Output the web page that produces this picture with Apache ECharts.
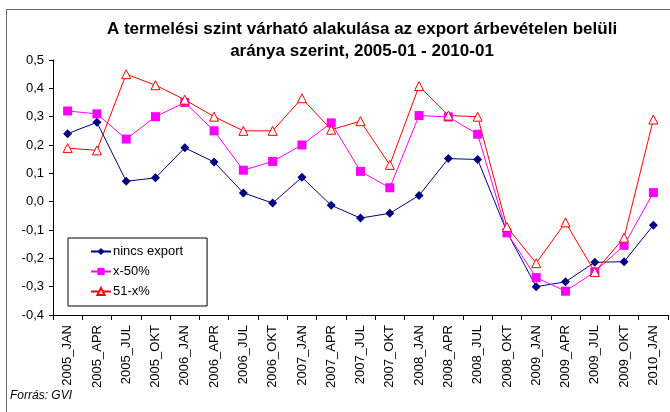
<!DOCTYPE html>
<html>
<head>
<meta charset="utf-8" />
<title>A termelési szint várható alakulása</title>
<script src="https://cdn.jsdelivr.net/npm/echarts@6/dist/echarts.min.js"></script>
<style>
  html, body { margin: 0; padding: 0; background: #fff; }
  #chart { width: 670px; height: 412px; }
</style>
</head>
<body>
<div id="chart"></div>
<script>
// negyedéves időpontok
const categories = [
  "2005_JAN", "2005_APR", "2005_JUL", "2005_OKT",
  "2006_JAN", "2006_APR", "2006_JUL", "2006_OKT",
  "2007_JAN", "2007_APR", "2007_JUL", "2007_OKT",
  "2008_JAN", "2008_APR", "2008_JUL", "2008_OKT",
  "2009_JAN", "2009_APR", "2009_JUL", "2009_OKT",
  "2010_JAN"
];

const nincsExport = [0.24, 0.28, 0.072, 0.084, 0.19, 0.14, 0.031, -0.005, 0.086, -0.013, -0.058,
  -0.041, 0.022, 0.152, 0.149, -0.107, -0.30, -0.283, -0.214, -0.212, -0.083];
const x50 = [0.32, 0.31, 0.221, 0.30, 0.35, 0.25, 0.111, 0.142, 0.20, 0.278, 0.107,
  0.049, 0.304, 0.299, 0.238, -0.11, -0.268, -0.316, -0.248, -0.154, 0.032];
const x51 = [0.189, 0.181, 0.45, 0.411, 0.36, 0.30, 0.25, 0.25, 0.365, 0.254, 0.284,
  0.13, 0.408, 0.304, 0.30, -0.089, -0.217, -0.073, -0.248, -0.127, 0.29];

const yMin = -0.4;
const yMax = 0.5;
const yStep = 0.1;

const font = "'Liberation Sans', Arial, sans-serif";

const chart = echarts.init(document.getElementById("chart"));

function lineSeries(name, data, color, symbol, size, hollow) {
  return {
    name: name,
    type: "line",
    data: data,
    symbol: symbol,
    symbolSize: size,
    showSymbol: true,
    lineStyle: { color: color, width: 1 },
    itemStyle: hollow
      ? { color: "#fff", borderColor: color, borderWidth: 1 }
      : { color: color, borderWidth: 0 },
    emphasis: { disabled: true }
  };
}

chart.setOption({
  animation: false,
  textStyle: { fontFamily: font },
  title: {
    text: "A termelési szint várható alakulása az export árbevételen belüli\naránya szerint, 2005-01 - 2010-01",
    left: 357,
    textAlign: "center",
    top: 13,
    textStyle: {
      fontFamily: font,
      fontSize: 17,
      fontWeight: "bold",
      color: "#000",
      lineHeight: 22
    }
  },
  grid: {
    left: 53,
    right: 2,
    top: 60,
    bottom: 97,
    containLabel: false
  },
  legend: {
    orient: "vertical",
    left: 68,
    top: 238,
    padding: [7, 24, 8, 22],
    itemGap: 7,
    itemWidth: 20,
    itemHeight: 9,
    borderColor: "#000",
    borderWidth: 1,
    data: ["nincs export", "x-50%", "51-x%"],
    textStyle: { fontFamily: font, fontSize: 13, color: "#000", padding: [0, 0, 0, -3] }
  },
  xAxis: {
    type: "category",
    data: categories,
    boundaryGap: true,
    axisLine: { onZero: false, lineStyle: { color: "#000", width: 1 } },
    axisTick: { show: true, interval: 0, length: 5, lineStyle: { color: "#000" } },
    axisLabel: {
      interval: 0,
      rotate: 90,
      margin: 10,
      fontSize: 13,
      fontFamily: font,
      color: "#000"
    },
    splitLine: { show: false }
  },
  yAxis: {
    type: "value",
    min: yMin,
    max: yMax,
    interval: yStep,
    axisLine: { show: true, lineStyle: { color: "#000", width: 1 } },
    axisTick: { show: true, length: 4, lineStyle: { color: "#000" } },
    axisLabel: {
      fontSize: 13,
      fontFamily: font,
      color: "#000",
      margin: 9,
      formatter: function (v) {
        return v.toFixed(1).replace(".", ",");
      }
    },
    splitLine: { show: false }
  },
  series: [
    lineSeries("nincs export", nincsExport, "#000080", "diamond", 9, false),
    lineSeries("x-50%", x50, "#FF00FF", "rect", 9, false),
    lineSeries("51-x%", x51, "#FF0000", "triangle", 9, true)
  ],
  graphic: [
    {
      type: "rect",
      shape: { x: 6.5, y: 9.5, width: 700, height: 500 },
      style: { fill: "none", stroke: "#666", lineWidth: 1 },
      silent: true
    },
    {
      type: "text",
      left: 10,
      top: 390,
      style: {
        text: "Forrás: GVI",
        font: "italic 12px 'Liberation Sans', Arial, sans-serif",
        fill: "#000"
      }
    }
  ]
});
</script>
</body>
</html>
